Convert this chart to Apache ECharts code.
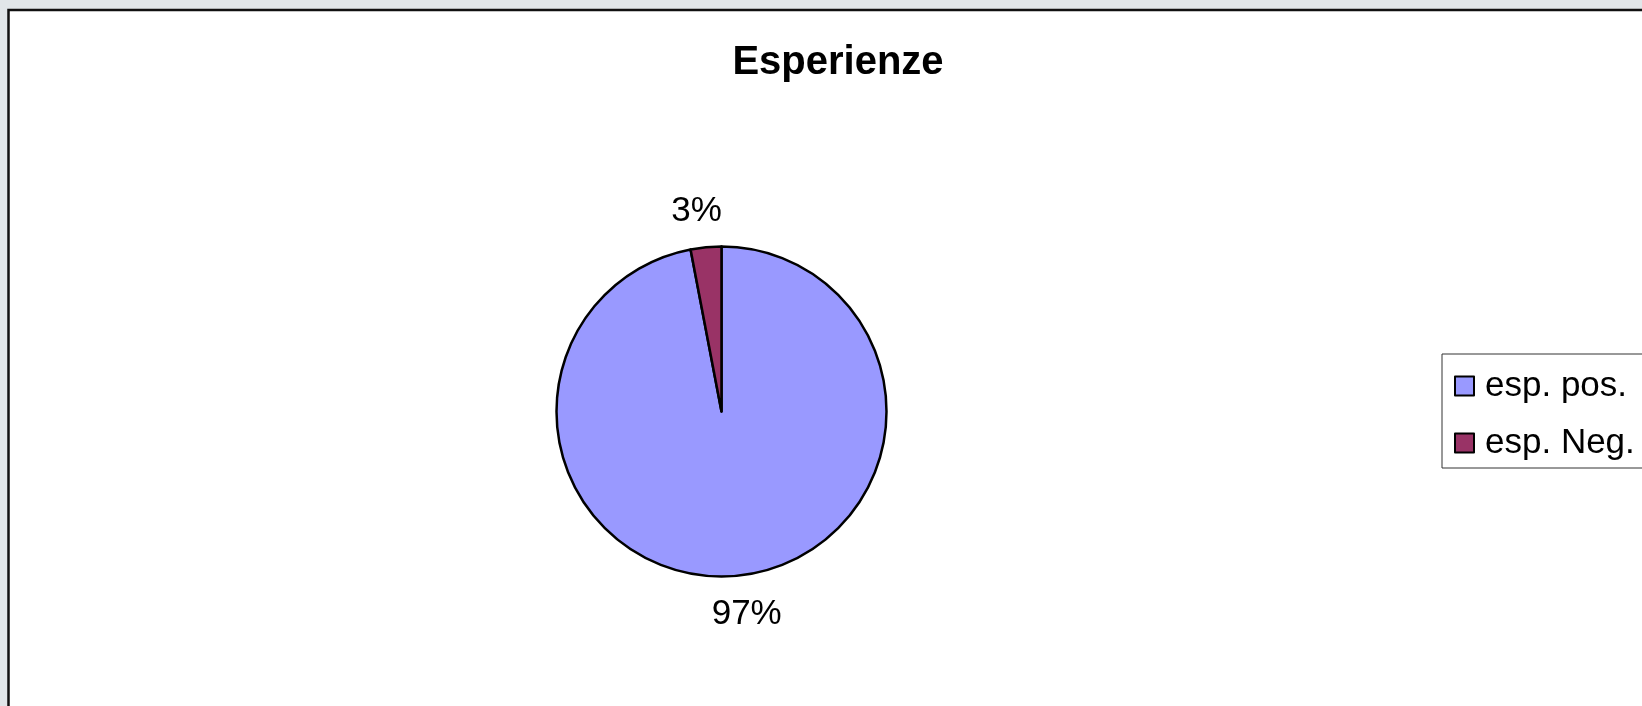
<!DOCTYPE html>
<html>
<head>
<meta charset="utf-8">
<script src="https://cdn.jsdelivr.net/npm/echarts@6/dist/echarts.min.js"></script>
<style>
html,body{margin:0;padding:0;background:#E1E6E9;}
#c{width:1642px;height:706px;}
</style>
</head>
<body>
<div id="c"></div>
<script>
var titleText = 'Esperienze';
var categories = ['esp. pos.', 'esp. Neg.'];
var values = [97, 3];
var colors = ['#9999FF', '#993366'];
var labelLineLengths = [39, 36];

var chart = echarts.init(document.getElementById('c'));
var font = '"Liberation Sans", Arial, sans-serif';
chart.setOption({
  backgroundColor: '#E1E6E9',
  animation: false,
  graphic: [{
    type: 'rect', z: -10, silent: true,
    shape: { x: 8.5, y: 10, width: 1700, height: 800 },
    style: { fill: '#ffffff', stroke: '#111', lineWidth: 2.5 }
  }],
  title: {
    text: titleText,
    left: 833, top: 38, textAlign: 'center',
    textStyle: { fontFamily: font, fontSize: 40, fontWeight: 'bold', color: '#000' }
  },
  legend: {
    orient: 'vertical',
    left: 1442, top: 354,
    padding: [14, 200, 7, 12],
    itemGap: 21,
    itemWidth: 19, itemHeight: 19,
    icon: 'rect',
    borderColor: '#333', borderWidth: 1,
    backgroundColor: '#fff',
    textStyle: { fontFamily: font, fontSize: 35, color: '#000', lineHeight: 36, padding: [0,0,0,6] },
    data: categories
  },
  series: [{
    type: 'pie',
    center: [721.5, 411.5],
    radius: 165,
    startAngle: 90,
    clockwise: true,
    avoidLabelOverlap: false,
    percentPrecision: 0,
    itemStyle: { borderColor: '#000', borderWidth: 2.5 },
    label: {
      show: true, position: 'outside', formatter: '{d}%',
      fontFamily: font, fontSize: 35, color: '#000', distanceToLabelLine: 6
    },
    labelLine: { show: false, length: 36, length2: 0 },
    labelLayout: { align: 'center' },
    emphasis: { disabled: true },
    data: categories.map(function (c, i) {
      return {
        name: c, value: values[i],
        itemStyle: { color: colors[i] },
        labelLine: { show: false, length: labelLineLengths[i], length2: 0 }
      };
    })
  }]
});
</script>
</body>
</html>
